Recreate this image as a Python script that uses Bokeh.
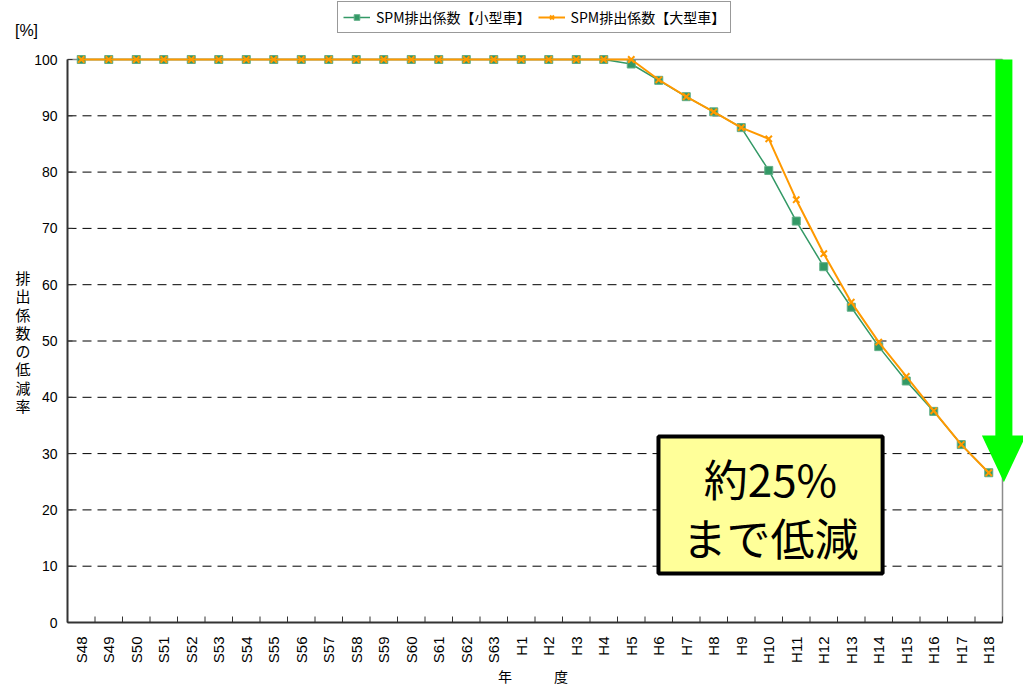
import math
from bokeh.plotting import figure
from bokeh.models import Range1d, Legend, LegendItem
from bokeh.core.properties import value
from bokeh.embed import file_html
from bokeh.resources import INLINE

# Fiscal years (Showa 48 .. Heisei 18)
years = ["S48", "S49", "S50", "S51", "S52", "S53", "S54", "S55", "S56", "S57",
         "S58", "S59", "S60", "S61", "S62", "S63",
         "H1", "H2", "H3", "H4", "H5", "H6", "H7", "H8", "H9", "H10",
         "H11", "H12", "H13", "H14", "H15", "H16", "H17", "H18"]

# SPM emission factor, reduction rate [%]
small_car = [100, 100, 100, 100, 100, 100, 100, 100, 100, 100,
             100, 100, 100, 100, 100, 100,
             100, 100, 100, 100, 99.2, 96.3, 93.4, 90.7, 87.9, 80.3,
             71.3, 63.2, 56.0, 49.0, 42.9, 37.5, 31.6, 26.6]
large_car = [100, 100, 100, 100, 100, 100, 100, 100, 100, 100,
             100, 100, 100, 100, 100, 100,
             100, 100, 100, 100, 100, 96.4, 93.4, 90.7, 87.9, 85.9,
             75.1, 65.5, 56.9, 49.8, 43.7, 37.6, 31.6, 26.6]

series_names = ["SPM排出係数【小型車】", "SPM排出係数【大型車】"]
y_ticks = [0, 10, 20, 30, 40, 50, 60, 70, 80, 90, 100]
y_unit = "[%]"
y_title = "排出係数の低減率"
x_title = "年　　　度"
note_lines = ["約25%", "まで低減"]

JP = "Noto Sans CJK JP"
LAT = "Liberation Sans"
GREEN = "#339966"
ORANGE = "#FF9900"
AXIS = "#333333"

n = len(years)
xs = list(range(n))

# canvas geometry: one category = 27.5 px, 1 % = 5.63 px,
# plot box from x = 67 px, with its baseline at y = 622 px
W, H = 1023, 686
LEFT_PX, BOTTOM_PX = 67, 622
PX = 1 / 27.5
PY = 1 / 5.63

p = figure(width=W, height=H,
           x_range=Range1d(-0.5 - LEFT_PX * PX, -0.5 + (W - LEFT_PX) * PX),
           y_range=Range1d(-(H - BOTTOM_PX) * PY, BOTTOM_PX * PY),
           x_axis_location=None, y_axis_location=None,
           output_backend="svg", toolbar_location=None,
           min_border=0)
p.outline_line_color = None
p.background_fill_color = "white"
p.border_fill_color = "white"
p.xgrid.visible = False
p.ygrid.visible = False

top = y_ticks[-1]
xl, xr = -0.5, n - 0.5

# dashed horizontal gridlines inside the plot box
grid_vals = y_ticks[1:-1]
p.segment(x0=[xl] * len(grid_vals), x1=[xr] * len(grid_vals),
          y0=grid_vals, y1=grid_vals,
          line_color="black", line_width=1, line_dash="9 6")

# plot box: top and right edges
p.segment(x0=[xl, xr], x1=[xr, xr], y0=[top, 0], y1=[top, top],
          line_color="#8c8c8c", line_width=1.5)

# value axis: line, inward ticks, labels, unit and stacked title
p.segment(x0=[xl], x1=[xl], y0=[0], y1=[top], line_color=AXIS, line_width=2)
p.segment(x0=[xl] * len(y_ticks), x1=[xl + 5 * PX] * len(y_ticks),
          y0=y_ticks, y1=y_ticks, line_color=AXIS, line_width=1)
p.text(x=[xl - 10 * PX] * len(y_ticks), y=y_ticks, text=[str(v) for v in y_ticks],
       text_font=value(LAT), text_font_size="14px", text_color="black",
       text_align="right", text_baseline="middle")
p.text(x=[xl - 41 * PX], y=[592 * PY], text=[y_unit],
       text_font=value(LAT), text_font_size="16px", text_color="black",
       text_align="center", text_baseline="middle")
p.text(x=[xl - 44.5 * PX], y=[281 * PY], text=["\n".join(y_title)],
       text_font=value(JP), text_font_size="15px", text_color="black",
       text_line_height=0.87, text_align="center", text_baseline="middle")

# category axis: line, inward ticks between categories, rotated labels, title
cat_edges = [i - 0.5 for i in range(n + 1)]
p.segment(x0=[xl], x1=[xr], y0=[0], y1=[0], line_color=AXIS, line_width=2)
p.segment(x0=cat_edges, x1=cat_edges, y0=[0] * len(cat_edges),
          y1=[6 * PY] * len(cat_edges), line_color=AXIS, line_width=1)
p.text(x=xs, y=[-14 * PY] * n, text=years, angle=math.pi / 2,
       text_font=value(LAT), text_font_size="15px", text_color="black",
       text_align="right", text_baseline="middle")
p.text(x=[(xl + xr) / 2 - 2 * PX], y=[-53 * PY], text=[x_title],
       text_font=value(JP), text_font_size="14px", text_color="black",
       text_align="center", text_baseline="middle")

# big green arrow pointing down to the final level
ax = n - 0.45
bar_hw, head_hw = 0.31, 0.8
head_y, tip_y = 33.2, 24.9
p.patch(x=[ax - bar_hw, ax + bar_hw, ax + bar_hw, ax + head_hw, ax, ax - head_hw, ax - bar_hw],
        y=[top, top, head_y, head_y, tip_y, head_y, head_y],
        fill_color="#00FF00", line_color=None)

# series
g_line = p.line(xs, small_car, line_color=GREEN, line_width=1.5)
g_pts = p.scatter(xs, small_car, marker="square", size=8,
                  fill_color=GREEN, line_color="#5fae86", line_width=1)
o_line = p.line(xs, large_car, line_color=ORANGE, line_width=2)
o_pts = p.scatter(xs, large_car, marker="x", size=9,
                  line_color=ORANGE, line_width=2)

# callout box
p.quad(left=[20.99], right=[29.14], top=[33.05], bottom=[8.7],
       fill_color="#FFFF99", line_color="black", line_width=4)
p.text(x=[25.06, 25.06], y=[25.75, 15.1], text=note_lines,
       text_font=value(JP), text_font_size="44px", text_color="black",
       text_align="center", text_baseline="middle")

legend = Legend(items=[LegendItem(label=series_names[0], renderers=[g_line, g_pts]),
                       LegendItem(label=series_names[1], renderers=[o_line, o_pts])],
                location=(337, H - 33), orientation="horizontal",
                border_line_color=AXIS, border_line_width=1,
                background_fill_color="white", background_fill_alpha=1,
                padding=5, spacing=7, margin=0,
                glyph_width=27, glyph_height=14, label_height=14,
                label_standoff=6, label_text_font=JP,
                label_text_font_size="14px", label_text_color="black")
p.add_layout(legend)

open("out.html", "w").write(file_html(p, INLINE))
